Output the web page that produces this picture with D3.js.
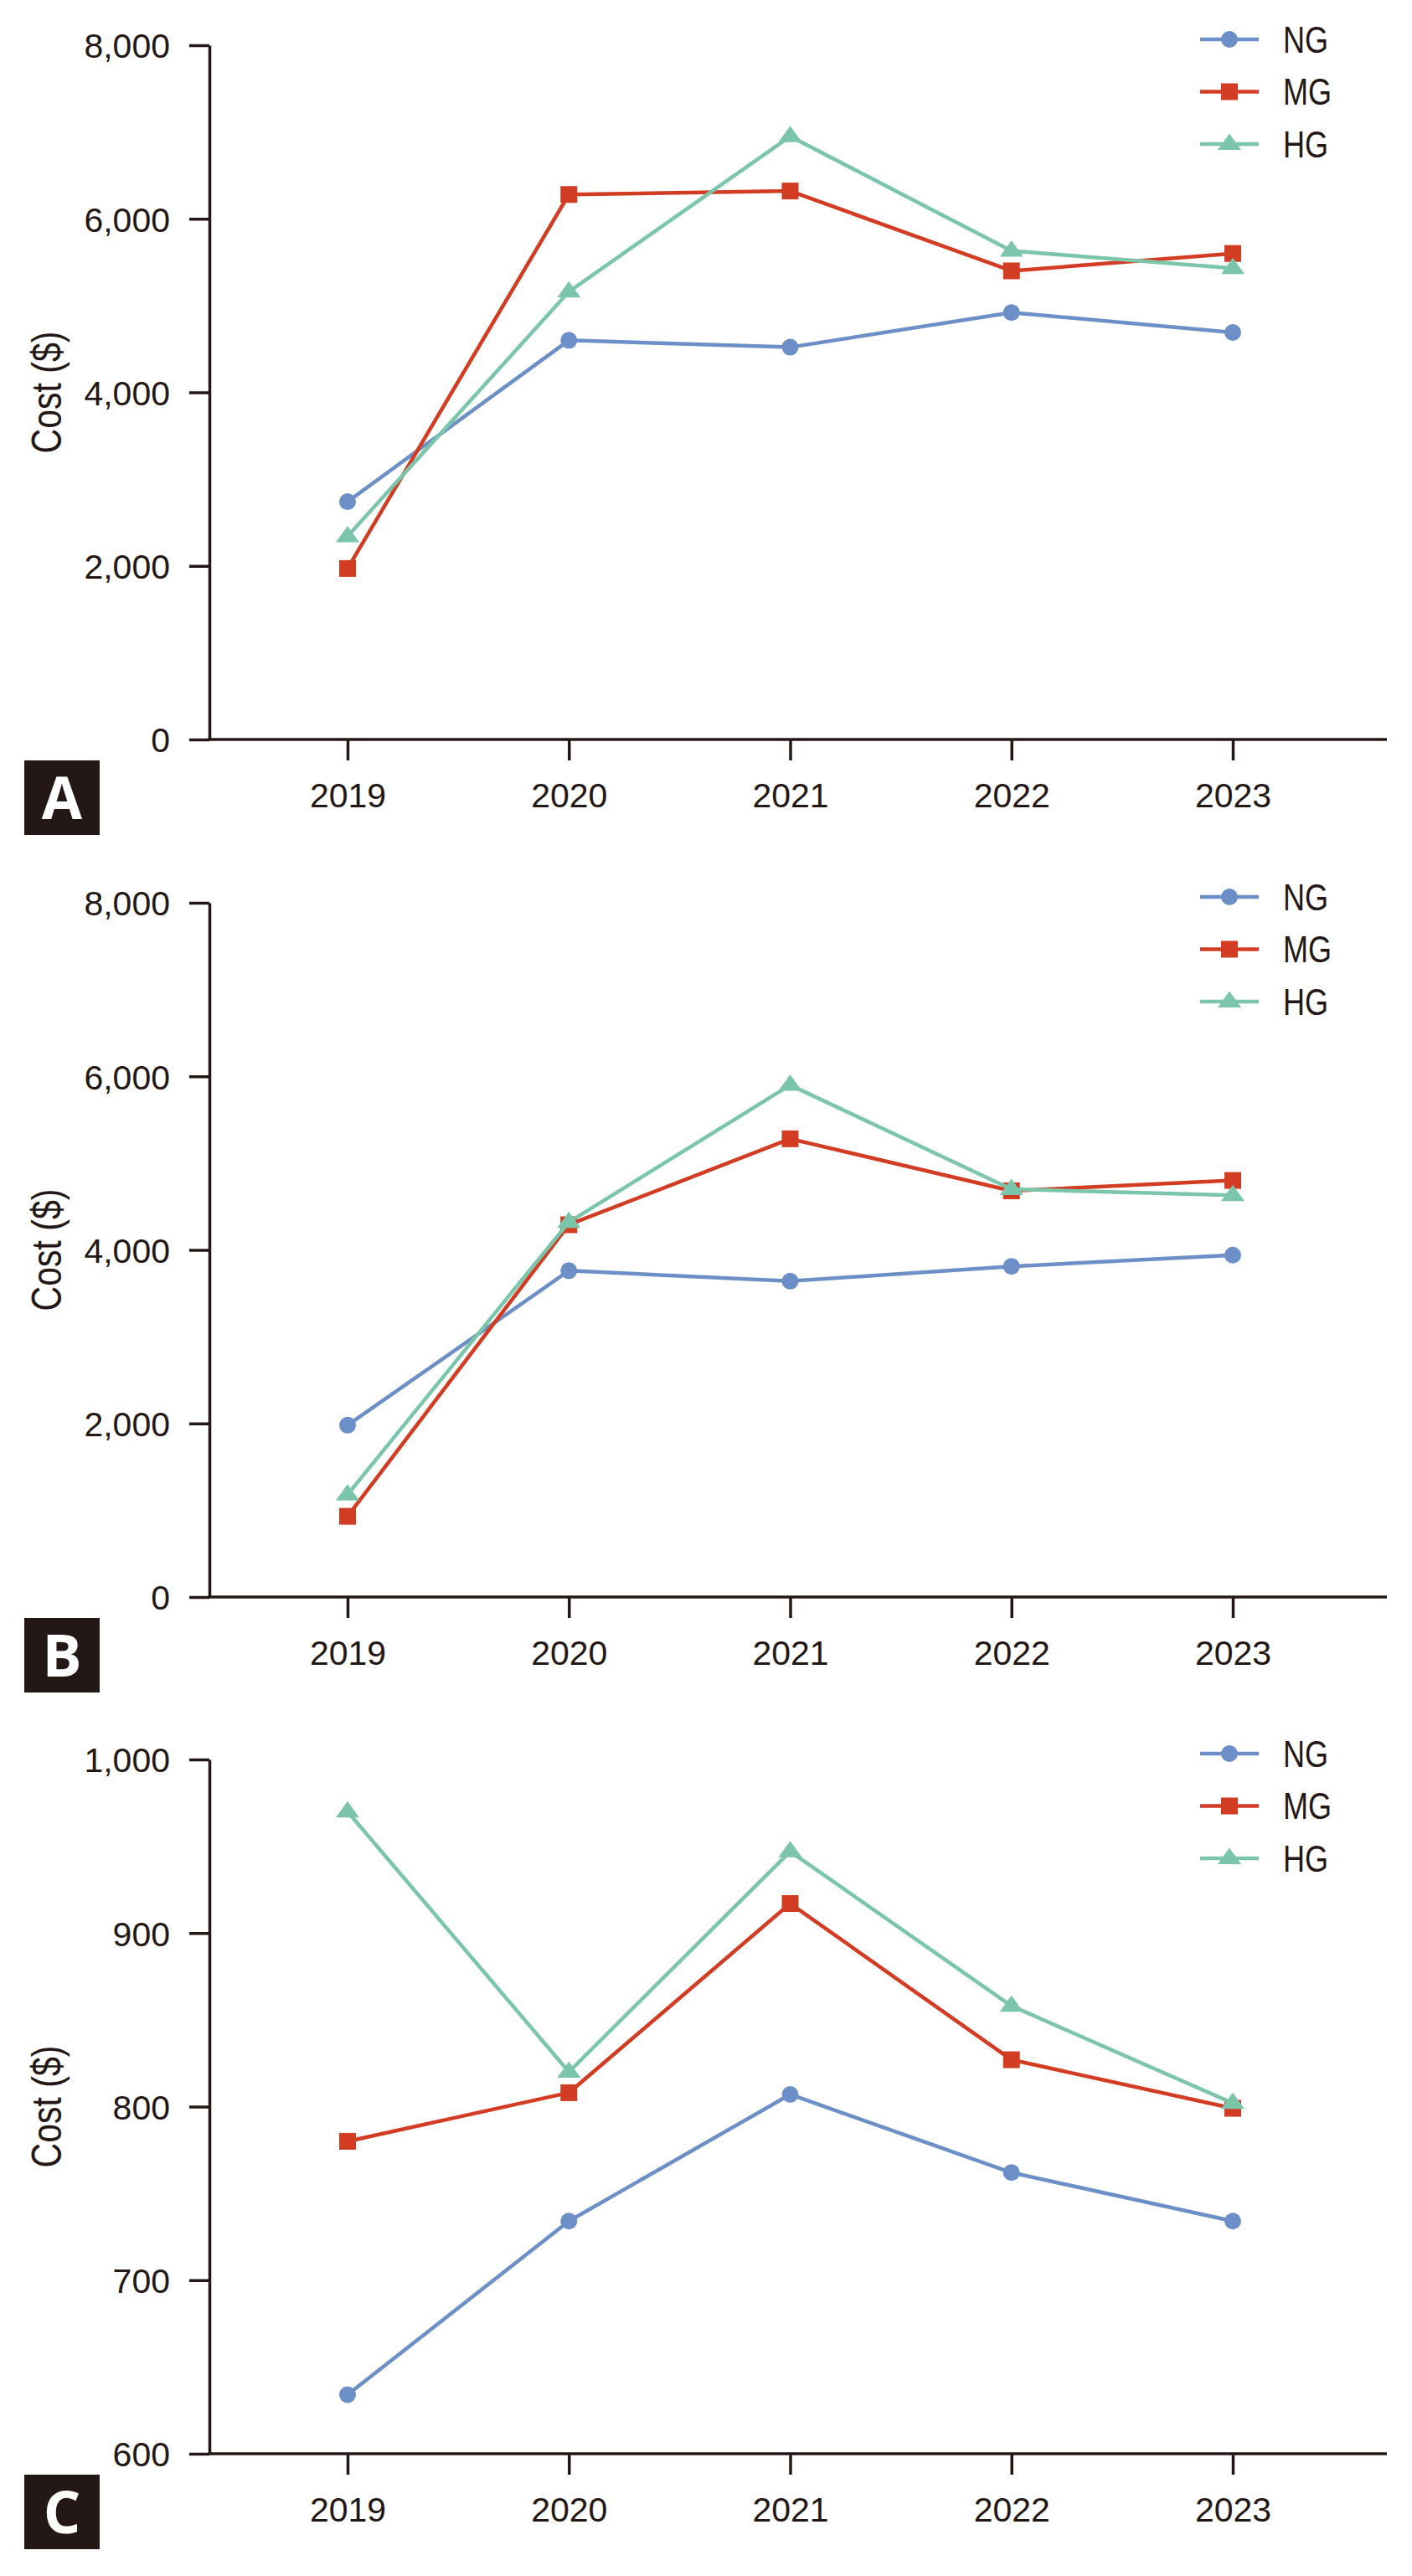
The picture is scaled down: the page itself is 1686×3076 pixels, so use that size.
<!DOCTYPE html>
<html>
<head>
<meta charset="utf-8">
<script src="https://cdn.jsdelivr.net/npm/d3@7/dist/d3.min.js"></script>
<style>
  html, body { margin: 0; padding: 0; background: #ffffff; }
  svg { display: block; }
</style>
</head>
<body>
<svg id="chart" width="1686" height="3076"></svg>
<script>
// ---------- data ----------
const years = ["2019", "2020", "2021", "2022", "2023"];
const seriesNames = ["NG", "MG", "HG"];
const seriesColors = ["#6c8fc7", "#d23c23", "#7bc5ab"];
const seriesShapes = ["circle", "square", "triangle"];

const panelLabels = ["A", "B", "C"];
const panelYDomains = [[0, 8000], [0, 8000], [600, 1000]];
const panelYTicks = [
  [0, 2000, 4000, 6000, 8000],
  [0, 2000, 4000, 6000, 8000],
  [600, 700, 800, 900, 1000]
];
const yAxisTitle = "Cost ($)";

// Panel A
const aNG = [2740, 4600, 4520, 4920, 4690];
const aMG = [1970, 6280, 6320, 5400, 5600];
const aHG = [2340, 5160, 6950, 5630, 5430];
// Panel B
const bNG = [1980, 3760, 3640, 3810, 3940];
const bMG = [930, 4290, 5280, 4680, 4800];
const bHG = [1180, 4320, 5900, 4700, 4630];
// Panel C
const cNG = [634, 734, 807, 762, 734];
const cMG = [780, 808, 917, 827, 799];
const cHG = [970, 820, 947, 858, 802];

const panelData = [[aNG, aMG, aHG], [bNG, bMG, bHG], [cNG, cMG, cHG]];

// ---------- layout ----------
const svg = d3.select("#chart");
const ink = "#231815";
const axisLeftX = 250;
const axisRightX = 1656;
const plotHeight = 829;
const panelTops = [54, 1078, 2101];
const narrow = 0.82;

const x = d3.scalePoint().domain(years).range([415, 1472]);

function markerPath(shape) {
  const p = d3.path();
  if (shape === "circle") {
    p.arc(0, 0, 10, 0, 2 * Math.PI);
  } else if (shape === "square") {
    p.rect(-10, -10, 20, 20);
  } else {
    p.moveTo(0, -12.5);
    p.lineTo(14, 7);
    p.lineTo(-14, 7);
    p.closePath();
  }
  return p.toString();
}

panelTops.forEach((top, pi) => {
  const g = svg.append("g").attr("transform", `translate(0,${top})`);
  const y = d3.scaleLinear().domain(panelYDomains[pi]).range([plotHeight, 0]);

  // y axis
  const yAxis = d3.axisLeft(y)
    .tickValues(panelYTicks[pi])
    .tickFormat(d3.format(","))
    .tickSize(24)
    .tickSizeOuter(0)
    .tickPadding(23);
  const ya = g.append("g").attr("transform", `translate(${axisLeftX},0)`).call(yAxis);
  ya.select(".domain").attr("stroke", ink).attr("stroke-width", 3.5);
  ya.selectAll(".tick line").attr("stroke", ink).attr("stroke-width", 3.5);
  ya.selectAll(".tick text")
    .attr("fill", ink)
    .attr("font-family", "'Liberation Sans', Arial, sans-serif")
    .attr("font-size", 41)
    .attr("dy", "0.36em");

  // x axis
  const xAxis = d3.axisBottom(x).tickSize(25).tickSizeOuter(0);
  const xa = g.append("g").attr("transform", `translate(0,${plotHeight})`).call(xAxis);
  xa.select(".domain").remove();
  xa.append("line")
    .attr("x1", axisLeftX - 1.75).attr("x2", axisRightX)
    .attr("y1", 0).attr("y2", 0)
    .attr("stroke", ink).attr("stroke-width", 3.5);
  xa.selectAll(".tick line").attr("stroke", ink).attr("stroke-width", 3.5);
  xa.selectAll(".tick text")
    .attr("fill", ink)
    .attr("font-family", "'Liberation Sans', Arial, sans-serif")
    .attr("font-size", 41)
    .attr("y", 81)
    .attr("dy", "0");

  // y axis title (condensed look)
  g.append("text")
    .attr("transform", `translate(73,${plotHeight / 2}) rotate(-90) scale(${narrow},1)`)
    .attr("text-anchor", "middle")
    .attr("fill", ink)
    .attr("font-family", "'Liberation Sans', Arial, sans-serif")
    .attr("font-size", 50)
    .text(yAxisTitle);

  // series lines and markers
  const line = d3.line().x((d, i) => x(years[i])).y(d => y(d));
  panelData[pi].forEach((vals, si) => {
    g.append("path")
      .datum(vals)
      .attr("d", line)
      .attr("fill", "none")
      .attr("stroke", seriesColors[si])
      .attr("stroke-width", 4.5)
      .attr("stroke-linejoin", "round");
    g.selectAll(null)
      .data(vals)
      .enter()
      .append("path")
      .attr("d", markerPath(seriesShapes[si]))
      .attr("transform", (d, i) => `translate(${x(years[i])},${y(d)})`)
      .attr("fill", seriesColors[si]);
  });

  // legend
  const legend = g.append("g");
  seriesNames.forEach((name, si) => {
    const ly = -7 + si * 62.5;
    legend.append("line")
      .attr("x1", 1433).attr("x2", 1503)
      .attr("y1", ly).attr("y2", ly)
      .attr("stroke", seriesColors[si])
      .attr("stroke-width", 4.5);
    legend.append("path")
      .attr("d", markerPath(seriesShapes[si]))
      .attr("transform", `translate(1468,${ly})`)
      .attr("fill", seriesColors[si]);
    legend.append("text")
      .attr("transform", `translate(1532,${ly}) scale(${narrow},1)`)
      .attr("dy", "0.36em")
      .attr("fill", ink)
      .attr("font-family", "'Liberation Sans', Arial, sans-serif")
      .attr("font-size", 44)
      .text(name);
  });

  // panel label box
  g.append("rect")
    .attr("x", 29).attr("y", plotHeight + 25)
    .attr("width", 90).attr("height", 89)
    .attr("fill", ink);
  g.append("text")
    .attr("x", 74).attr("y", plotHeight + 95)
    .attr("text-anchor", "middle")
    .attr("fill", "#ffffff")
    .attr("font-family", "'Open Sans', 'Liberation Sans', sans-serif")
    .attr("font-weight", "bold")
    .attr("font-size", 70)
    .text(panelLabels[pi]);
});
</script>
</body>
</html>
